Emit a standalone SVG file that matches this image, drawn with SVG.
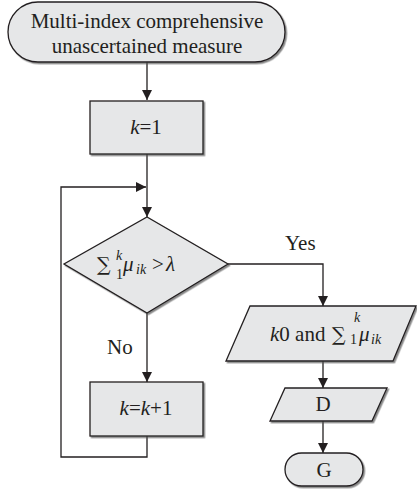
<svg xmlns="http://www.w3.org/2000/svg" width="417" height="490" viewBox="0 0 417 490">
<style>
.shape{fill:#e6e7e8;stroke:#231f20;stroke-width:1.3;filter:url(#sh)}
.line{fill:none;stroke:#231f20;stroke-width:1.3}
text{font-family:"Liberation Serif","Times New Roman",serif;font-size:21px;fill:#231f20}
.it{font-style:italic}
.sm{font-size:14px}
.sig{font-family:"DejaVu Serif",serif;font-size:19px}
</style>
<defs>
<filter id="sh" x="-10%" y="-10%" width="130%" height="130%">
<feDropShadow dx="1.5" dy="1.5" stdDeviation="0.6" flood-color="#555" flood-opacity="0.7"/>
</filter>
<marker id="ar" viewBox="0 0 10 10" refX="10" refY="5" markerWidth="10" markerHeight="10" markerUnits="userSpaceOnUse" orient="auto">
<path d="M0,0 L10,5 L0,10 Z" fill="#231f20"/>
</marker>
</defs>
<g id="connectors">
<line class="line" x1="147" y1="62" x2="147" y2="100" marker-end="url(#ar)"/>
<line class="line" x1="147" y1="154" x2="147" y2="217" marker-end="url(#ar)"/>
<polyline class="line" points="147,436 147,457 61,457 61,187 146,187" marker-end="url(#ar)"/>
<line class="line" x1="147" y1="313" x2="147" y2="382" marker-end="url(#ar)"/>
<polyline class="line" points="228,264 323,264 323,306" marker-end="url(#ar)"/>
<line class="line" x1="323" y1="361" x2="323" y2="388" marker-end="url(#ar)"/>
<line class="line" x1="323" y1="421" x2="323" y2="453" marker-end="url(#ar)"/>
<text x="285" y="250">Yes</text>
<text x="107" y="354">No</text>
</g>
<g id="start">
<rect class="shape" x="8" y="2" width="277" height="60" rx="30" ry="30"/>
<text x="147" y="28" text-anchor="middle">Multi-index comprehensive</text>
<text x="147" y="53" text-anchor="middle">unascertained measure</text>
</g>
<g id="init">
<rect class="shape" x="90" y="101" width="113" height="53"/>
<text x="146" y="134" text-anchor="middle"><tspan class="it">k</tspan>=1</text>
</g>
<g id="decision">
<polygon class="shape" points="147,217 228,264 147,313 64,264"/>
<text x="97" y="271" class="sig">∑</text>
<text x="116" y="260" class="sm it">k</text>
<text x="116" y="279" class="sm">1</text>
<text x="123" y="271" class="it">μ</text>
<text x="136" y="274" class="sm it">ik</text>
<text x="152" y="271">&gt;</text>
<text x="166" y="271" class="it">λ</text>
</g>
<g id="increment">
<rect class="shape" x="90" y="382" width="113" height="54"/>
<text x="146" y="415" text-anchor="middle"><tspan class="it">k</tspan>=<tspan class="it">k</tspan>+1</text>
</g>
<g id="output">
<polygon class="shape" points="250,306 416,306 393,361 226,361"/>
<text x="270" y="341"><tspan class="it">k</tspan>0 and</text>
<text x="332" y="341" class="sig">∑</text>
<text x="354" y="322" class="sm it">k</text>
<text x="350" y="344" class="sm">1</text>
<text x="359" y="341" class="it">μ</text>
<text x="371" y="344" class="sm it">ik</text>
</g>
<g id="d">
<polygon class="shape" points="285,388 387,388 372,421 270,421"/>
<text x="323" y="411" text-anchor="middle">D</text>
</g>
<g id="end">
<rect class="shape" x="285" y="453" width="78" height="33" rx="16.5" ry="16.5"/>
<text x="324" y="477" text-anchor="middle">G</text>
</g>
</svg>
